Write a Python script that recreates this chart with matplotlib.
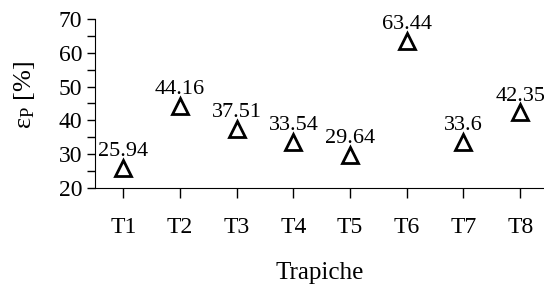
import numpy as np
import matplotlib
matplotlib.use("Agg")
import matplotlib.pyplot as plt
from matplotlib.ticker import MultipleLocator

plt.rcParams['font.family'] = ['Liberation Serif', 'DejaVu Serif']
plt.rcParams['mathtext.fontset'] = 'custom'
plt.rcParams['mathtext.rm'] = 'Liberation Serif'
plt.rcParams['mathtext.it'] = 'Liberation Serif:italic'

trapiches = ['T1', 'T2', 'T3', 'T4', 'T5', 'T6', 'T7', 'T8']
eps_p = [25.94, 44.16, 37.51, 33.54, 29.64, 63.44, 33.6, 42.35]
labels = ['25.94', '44.16', '37.51', '33.54', '29.64', '63.44', '33.6', '42.35']

fig = plt.figure(figsize=(5.44, 2.87), dpi=100)
ax = fig.add_axes([95/544, 1-188/287, 1-95/544, (188-19)/287])

x = np.arange(len(trapiches))
ax.plot(x, eps_p, linestyle='none', marker='^', markersize=11,
        markerfacecolor='white', markeredgecolor='black', markeredgewidth=2)

for xi, yi, lab in zip(x, eps_p, labels):
    ax.annotate(lab, (xi, yi), xytext=(0, 5), textcoords='offset points',
                ha='center', va='bottom', fontsize=16)

ax.set_xlim(-0.5, 7.42)
ax.set_ylim(20, 70)
ax.set_xticks(x)
ax.set_xticklabels(trapiches, fontsize=17)
ax.yaxis.set_major_locator(MultipleLocator(10))
ax.yaxis.set_minor_locator(MultipleLocator(5))
ax.tick_params(axis='y', labelsize=17, direction='out', length=6, width=1, pad=3)
ax.tick_params(axis='y', which='minor', length=6, width=1)
ax.tick_params(axis='x', direction='out', length=7, width=1, pad=14)

ax.spines['top'].set_visible(False)
ax.spines['right'].set_visible(False)

ax.set_ylabel('ε$_\\mathrm{P}$ [%]', fontsize=19, labelpad=14)
ax.yaxis.set_label_coords(-0.13, 0.55)
ax.set_xlabel('Trapiche', fontsize=18, labelpad=17)

fig.savefig('out.png', dpi=100)
